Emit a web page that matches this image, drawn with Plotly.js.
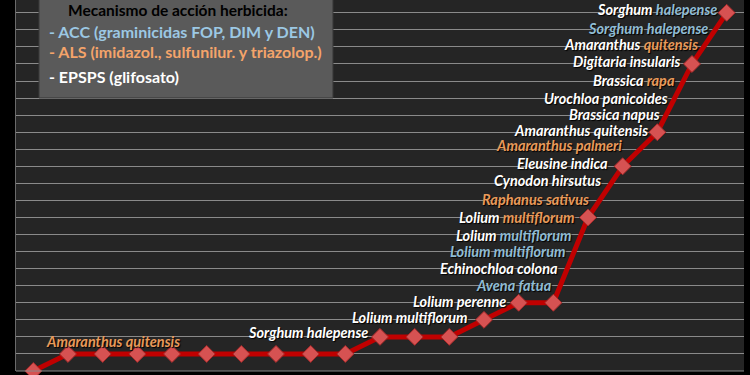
<!DOCTYPE html>
<html>
<head>
<meta charset="utf-8">
<script src="https://cdn.plot.ly/plotly-3.0.1.min.js"></script>
<style>
html,body{margin:0;padding:0;background:#000;}
#chart{width:750px;height:375px;}
</style>
</head>
<body>
<div id="chart"></div>
<script>
// ---- data ----
const years = [1995,1996,1997,1998,1999,2000,2001,2002,2003,2004,2005,2006,2007,2008,2009,2010,2011,2012,2013,2014,2015];
const resistantCases = [0,1,1,1,1,1,1,1,1,1,2,2,2,3,4,4,9,12,14,18,21];

// species labels, in order of appearance (case 1 .. case 21)
const genus   = ["Amaranthus","Sorghum","Lolium","Lolium","Avena","Echinochloa","Lolium","Lolium","Lolium","Raphanus","Cynodon","Eleusine","Amaranthus","Amaranthus","Brassica","Urochloa","Brassica","Digitaria","Amaranthus","Sorghum","Sorghum"];
const epithet = ["quitensis","halepense","multiflorum","perenne","fatua","colona","multiflorum","multiflorum","multiflorum","sativus","hirsutus","indica","palmeri","quitensis","napus","panicoides","rapa","insularis","quitensis","halepense","halepense"];
const genusMech   = ["ALS","EPSPS","EPSPS","EPSPS","ACC","EPSPS","ACC","EPSPS","EPSPS","ALS","EPSPS","EPSPS","ALS","EPSPS","EPSPS","EPSPS","EPSPS","EPSPS","EPSPS","ACC","EPSPS"];
const epithetMech = ["ALS","EPSPS","EPSPS","EPSPS","ACC","EPSPS","ACC","ACC","ALS","ALS","EPSPS","EPSPS","ALS","EPSPS","EPSPS","EPSPS","ALS","EPSPS","ALS","ACC","ACC"];

const legendTitle = "Mecanismo de acción herbicida:";
const legendMechs = ["ACC","ALS","EPSPS"];
const legendTexts = ["- ACC (graminicidas FOP, DIM y DEN)","- ALS (imidazol., sulfunilur. y triazolop.)","- EPSPS (glifosato)"];

// ---- label placement (annotation anchors, right edge / middle) ----
const labelX = [1999.27,2004.67,2007.58,2008.65,2009.98,2010.15,2010.38,2010.56,2010.64,2011.05,2011.39,2011.62,2012.0,2012.75,2013.10,2013.33,2013.53,2013.70,2014.19,2014.48,2014.74];
const labelY = [1.74,2.23,3.12,4.08,5.04,6.01,6.98,7.95,8.98,10.07,11.18,12.14,13.2,14.1,15.06,16.0,17.05,18.16,19.16,20.08,21.2];

const mechColor = {ACC:"#8fbcd4", ALS:"#e89a5a", EPSPS:"#ffffff"};
const legendColor = {ACC:"#9cc8e4", ALS:"#f4a46a", EPSPS:"#ffffff"};
const FONT = "Lato, Open Sans, sans-serif";

const annotations = [];
for (let i = 0; i < genus.length; i++) {
  const txt = '<span style="color:' + mechColor[genusMech[i]] + '">' + genus[i] + '</span> ' +
              '<span style="color:' + mechColor[epithetMech[i]] + '">' + epithet[i] + '</span>';
  annotations.push({
    x: labelX[i], y: labelY[i], xref: 'x', yref: 'y',
    xanchor: 'right', yanchor: 'middle', showarrow: false, borderpad: 0,
    text: '<b><i>' + txt + '</i></b>',
    font: {family: FONT, size: 14.5, color: '#ffffff', shadow: '1px 1px 1px #000'}
  });
}
// legend box texts
annotations.push({
  x: 0.222, y: 0.973, xref: 'paper', yref: 'paper', xanchor: 'center', yanchor: 'middle',
  showarrow: false, text: '<b>' + legendTitle + '</b>',
  font: {family: FONT, size: 15.5, color: '#000000'}
});
const legendY = [0.914, 0.86, 0.795];
for (let i = 0; i < legendTexts.length; i++) {
  annotations.push({
    x: 0.042, y: legendY[i], xref: 'paper', yref: 'paper', xanchor: 'left', yanchor: 'middle',
    showarrow: false, text: '<b>' + legendTexts[i] + '</b>',
    font: {family: FONT, size: 16, color: legendColor[legendMechs[i]]}
  });
}

const trace = {
  x: years, y: resistantCases, type: 'scatter', mode: 'lines+markers',
  line: {color: '#c00000', width: 5},
  marker: {symbol: 'diamond', size: 13, color: '#d65252', line: {color: '#a82a2a', width: 1}},
  cliponaxis: false, hoverinfo: 'skip'
};

const layout = {
  width: 750, height: 375,
  margin: {l: 16, r: 6, t: 0, b: 4, pad: 0},
  paper_bgcolor: '#000000', plot_bgcolor: '#252525',
  showlegend: false,
  xaxis: {range: [1994.5, 2015.5], showgrid: false, zeroline: false, showticklabels: false, ticks: '', showline: false},
  yaxis: {range: [0, 21.75], dtick: 1, showgrid: true, gridcolor: '#8a8a8a', gridwidth: 1, zeroline: false,
          showticklabels: false, ticks: '', showline: true, linecolor: '#6a6a6a', linewidth: 1, mirror: false},
  shapes: [
    {type: 'rect', xref: 'paper', yref: 'paper', x0: 0.0316, x1: 0.4354, y0: 0.736, y1: 1.02,
     fillcolor: '#5a5a5a', line: {width: 1, color: '#3a3a3a'}, layer: 'above'},
    {type: 'line', xref: 'paper', yref: 'paper', x0: 0, x1: 1, y0: 0, y1: 0, line: {color: '#8a8a8a', width: 1}}
  ],
  annotations: annotations
};

Plotly.newPlot('chart', [trace], layout, {staticPlot: true, displayModeBar: false});
</script>
</body>
</html>
